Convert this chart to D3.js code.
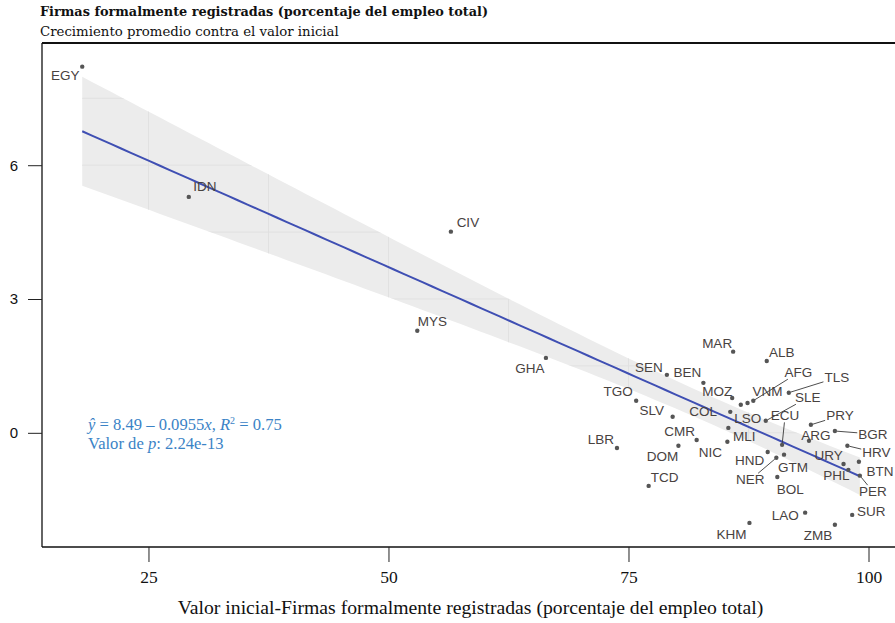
<!DOCTYPE html>
<html>
<head>
<meta charset="utf-8">
<script src="https://cdn.jsdelivr.net/npm/d3@7"></script>
<style>
  body { margin: 0; background: #fff; }
  svg { display: block; }
</style>
</head>
<body>
<svg id="chart" width="895" height="623"></svg>
<script>
// ---- Data ---------------------------------------------------------------
const countries = ["EGY","IDN","CIV","MYS","GHA","MAR","ALB","SEN","BEN","MOZ",
  "LSO","VNM","AFG","TLS","SLE","COL","MLI","NIC","CMR","DOM",
  "TGO","SLV","LBR","TCD","ECU","PRY","ARG","BGR","HRV","URY",
  "PHL","BTN","PER","HND","NER","GTM","BOL","LAO","SUR","KHM","ZMB"];
// Initial value: formally registered firms (% of total employment)
const initialValue = [18.1,29.2,56.5,53.0,66.4,85.9,89.4,79.0,82.8,85.8,
  86.7,87.4,88.0,91.7,89.3,85.6,85.4,85.3,82.1,80.2,
  75.8,79.6,73.8,77.1,91.0,94.0,93.8,96.5,97.8,97.4,
  97.9,99.0,99.1,89.5,90.4,91.2,90.5,93.4,98.3,87.6,96.5];
// Average growth over the period
const avgGrowth = [8.21,5.29,4.51,2.29,1.68,1.82,1.61,1.30,1.12,0.78,
  0.63,0.67,0.72,0.90,0.27,0.47,0.11,-0.20,-0.16,-0.29,
  0.72,0.36,-0.34,-1.19,-0.27,0.18,-0.18,0.04,-0.29,-0.70,
  -0.83,-0.65,-0.96,-0.43,-0.56,-0.49,-0.99,-1.79,-1.84,-2.02,-2.06];

const xTicks = [25, 50, 75, 100];
const yTicks = [0, 3, 6];

// Fitted linear model
const fitIntercept = 8.49;
const fitSlope = -0.0955;
const fitR2 = 0.75;
const fitPValue = "2.24e-13";

const titleText = "Firmas formalmente registradas (porcentaje del empleo total)";
const subtitleText = "Crecimiento promedio contra el valor inicial";
const xTitleText = "Valor inicial-Firmas formalmente registradas (porcentaje del empleo total)";

// ---- Label layout (pixel nudges from each point; seg = draw a leader line)
const labelLayout = {
  EGY:[-17,9], IDN:[16,-10], CIV:[17,-9], MYS:[15,-9], GHA:[-16,11],
  MAR:[-16,-8], ALB:[15,-9], SEN:[-18,-7], BEN:[-16,-10], MOZ:[-15,-7],
  LSO:[7,14], VNM:[20,-11], AFG:[45,-28,"seg"], TLS:[48,-15,"seg"], SLE:[42,-23,"seg"],
  COL:[-27,0], MLI:[16,9], NIC:[-17,11], CMR:[-17,-8], DOM:[-16,11],
  TGO:[-18,-9], SLV:[-21,-6], LBR:[-16,-8], TCD:[16,-8], ECU:[3,-29,"seg"],
  PRY:[29,-9,"seg"], ARG:[7,-5], BGR:[38,3,"seg"], HRV:[29,7,"seg"], URY:[-15,-9],
  PHL:[-12,6], BTN:[21,10], PER:[13,16,"seg"], HND:[-18,9], NER:[-26,22,"seg"],
  GTM:[9,13], BOL:[13,13], LAO:[-20,3], SUR:[19,-3], KHM:[-18,12], ZMB:[-17,11]
};

// ---- Layout -------------------------------------------------------------
const svg = d3.select("#chart");
const plot = { left: 42, right: 895, top: 43, bottom: 547 };

const x = d3.scaleLinear().domain([13.91, 102.76]).range([plot.left, plot.right]);
const y = d3.scaleLinear().domain([-2.56, 8.74]).range([plot.bottom, plot.top]);

const points = countries.map((c, i) => ({ code: c, x: initialValue[i], y: avgGrowth[i] }));

// ---- Confidence band of the fitted line (95%) ----------------------------
const n = points.length;
const xbar = d3.mean(points, d => d.x);
const sxx = d3.sum(points, d => (d.x - xbar) ** 2);
const predict = v => fitIntercept + fitSlope * v;
const rss = d3.sum(points, d => (d.y - predict(d.x)) ** 2);
const sigma = Math.sqrt(rss / (n - 2));
const tCrit = 2.0227; // t(0.975, df = 39)
const [xMin, xMax] = d3.extent(points, d => d.x);
const bandPts = d3.range(0, 81).map(k => {
  const v = xMin + (xMax - xMin) * k / 80;
  const se = sigma * Math.sqrt(1 / n + (v - xbar) ** 2 / sxx);
  const f = predict(v);
  return { x: v, f, lo: f - tCrit * se, hi: f + tCrit * se };
});

const bandArea = d3.area().x(d => x(d.x)).y0(d => y(d.lo)).y1(d => y(d.hi));

svg.append("defs").append("clipPath").attr("id", "bandClip")
  .append("path").attr("d", bandArea(bandPts));

svg.append("path").attr("d", bandArea(bandPts)).attr("fill", "#ececec");

// faint panel grid, only showing through the band
const grid = svg.append("g").attr("clip-path", "url(#bandClip)")
  .attr("stroke", "#e1e1e1").attr("stroke-width", 1);
d3.range(25, 101, 12.5).forEach(v => {
  grid.append("line").attr("x1", x(v)).attr("x2", x(v)).attr("y1", plot.top).attr("y2", plot.bottom);
});
d3.range(-1.5, 8, 1.5).forEach(v => {
  grid.append("line").attr("x1", plot.left).attr("x2", plot.right).attr("y1", y(v)).attr("y2", y(v));
});

// fitted line
svg.append("path")
  .attr("d", d3.line().x(d => x(d.x)).y(d => y(d.f))(bandPts))
  .attr("fill", "none").attr("stroke", "#3f4fb3").attr("stroke-width", 2);

// ---- Frame & axes --------------------------------------------------------
const frame = svg.append("g").attr("stroke", "#111").attr("fill", "none");
frame.append("line").attr("x1", plot.left).attr("x2", plot.left).attr("y1", plot.top).attr("y2", plot.bottom).attr("stroke-width", 1.3);
frame.append("line").attr("x1", plot.left).attr("x2", plot.right).attr("y1", plot.top).attr("y2", plot.top).attr("stroke-width", 1.8);
frame.append("line").attr("x1", plot.left).attr("x2", plot.right).attr("y1", plot.bottom).attr("y2", plot.bottom).attr("stroke-width", 1.3);

const xAxis = svg.append("g").attr("transform", `translate(0,${plot.bottom})`)
  .call(d3.axisBottom(x).tickValues(xTicks).tickSize(15).tickPadding(9).tickFormat(d3.format("d")));
xAxis.select(".domain").remove();
xAxis.selectAll("line").attr("stroke", "#222");
xAxis.selectAll("text")
  .style("font-family", "'Liberation Serif', serif").style("font-size", "17.5px").attr("fill", "#111");

const yAxis = svg.append("g").attr("transform", `translate(${plot.left},0)`)
  .call(d3.axisLeft(y).tickValues(yTicks).tickSize(14).tickPadding(10).tickFormat(d3.format("d")));
yAxis.select(".domain").remove();
yAxis.selectAll("line").attr("stroke", "#222");
yAxis.selectAll("text")
  .style("font-family", "'Liberation Sans', Arial, sans-serif").style("font-size", "15px").attr("fill", "#111");

// ---- Points & labels -----------------------------------------------------
const segG = svg.append("g");
svg.append("g").selectAll("circle").data(points).join("circle")
  .attr("cx", d => x(d.x)).attr("cy", d => y(d.y)).attr("r", 2.2).attr("fill", "#555");
const labelG = svg.append("g");

points.forEach(d => {
  const [dx, dy, seg] = labelLayout[d.code];
  const px = x(d.x), py = y(d.y);
  const t = labelG.append("text")
    .attr("x", px + dx).attr("y", py + dy)
    .attr("text-anchor", "middle").attr("dominant-baseline", "central")
    .style("font-family", "'Liberation Sans', Arial, sans-serif")
    .style("font-size", "13.5px").attr("fill", "#48423f")
    .text(d.code);
  if (seg) {
    const b = t.node().getBBox();
    const cx = b.x + b.width / 2, cy = b.y + b.height / 2;
    // end the leader where the ray from the point meets the label box
    const vx = cx - px, vy = cy - py;
    const hw = b.width / 2 + 1, hh = b.height / 2 - 1;
    const s = Math.min(Math.abs(vx) > 0 ? hw / Math.abs(vx) : Infinity,
                       Math.abs(vy) > 0 ? hh / Math.abs(vy) : Infinity);
    const ex = cx - vx * s, ey = cy - vy * s;
    const len = Math.hypot(ex - px, ey - py);
    const sx = px + (ex - px) * (2 / len), sy = py + (ey - py) * (2 / len);
    segG.append("line").attr("x1", sx).attr("y1", sy).attr("x2", ex).attr("y2", ey)
      .attr("stroke", "#3a3a3a").attr("stroke-width", 0.9);
  }
});

// ---- Model annotation ---------------------------------------------------
const eq = svg.append("text").attr("x", 88).attr("y", 430)
  .style("font-family", "'Liberation Serif', serif").style("font-size", "16.6px").attr("fill", "#3b83c6");
eq.append("tspan").attr("font-style", "italic").text("ŷ");
eq.append("tspan").text(` = ${fitIntercept.toFixed(2)} – ${Math.abs(fitSlope)}`);
eq.append("tspan").attr("font-style", "italic").text("x");
eq.append("tspan").text(", ");
eq.append("tspan").attr("font-style", "italic").text("R");
eq.append("tspan").style("font-size", "10px").attr("dy", -6).text("2");
eq.append("tspan").attr("dy", 6).text(` = ${fitR2.toFixed(2)}`);

const pv = svg.append("text").attr("x", 88).attr("y", 449)
  .style("font-family", "'Liberation Serif', serif").style("font-size", "16.6px").attr("fill", "#3b83c6");
pv.append("tspan").text("Valor de ");
pv.append("tspan").attr("font-style", "italic").text("p");
pv.append("tspan").text(`: ${fitPValue}`);

// ---- Titles --------------------------------------------------------------
svg.append("text").attr("x", 40).attr("y", 16)
  .style("font-family", "'DejaVu Serif', serif").attr("font-weight", "bold")
  .style("font-size", "12.85px").attr("fill", "#111").text(titleText);
svg.append("text").attr("x", 40).attr("y", 36)
  .style("font-family", "'DejaVu Serif', serif")
  .style("font-size", "13.3px").attr("fill", "#111").text(subtitleText);

svg.append("text").attr("x", (178 + 763) / 2).attr("y", 614)
  .attr("text-anchor", "middle")
  .style("font-family", "'Liberation Serif', serif").style("font-size", "19.7px").attr("fill", "#111")
  .text(xTitleText);
</script>
</body>
</html>
